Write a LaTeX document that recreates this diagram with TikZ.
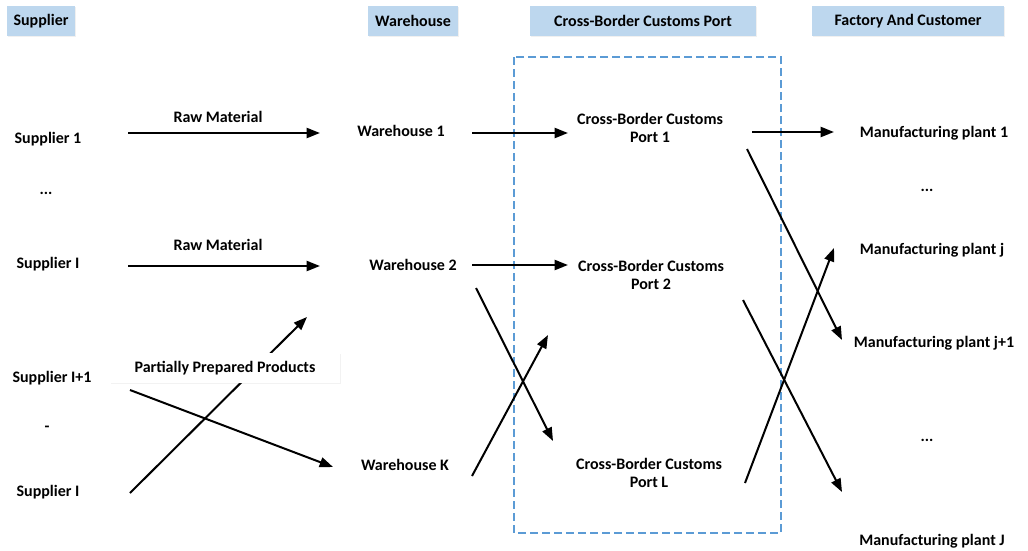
\documentclass[tikz,border=0pt]{standalone}
\usepackage{fontspec}
\setmainfont{Carlito}
\usetikzlibrary{arrows.meta,shadows}
\definecolor{hdrblue}{RGB}{189,215,238}
\definecolor{portblue}{RGB}{91,155,213}
\begin{document}
\begin{tikzpicture}[x=0.75pt,y=-0.75pt,font=\fontsize{12}{14}\selectfont\bfseries]

        \useasboundingbox (0,0) rectangle (1028,550);

        % column headers
        \begin{scope}[every node/.style={fill=hdrblue,minimum height=23pt,inner xsep=2pt,
            drop shadow={shadow xshift=.8pt,shadow yshift=-.8pt,opacity=.12}}]
          \node[minimum width=51pt]  (hsup)  at (41,21)  {Supplier};
          \node[minimum width=67.5pt] (hware) at (413,21) {Warehouse};
          \node[minimum width=170pt] (hport) at (643,21) {Cross-Border Customs Port};
          \node[minimum width=144pt] (hfac)  at (908,21) {Factory And Customer};
        \end{scope}

        % customs area
        \draw[portblue,line width=.8pt,dash pattern=on 6pt off 3pt] (514,57) rectangle (781,533);

        % suppliers
        \begin{scope}[every node/.style={align=center}]
          \node (s1)   at (48,139)  {Supplier 1};
          \node (sdot) at (46,193)  {...};
          \node (si)   at (48,264)  {Supplier I};
          \node (sip)  at (52,378)  {Supplier I+1};
          \node (sdash) at (47,429) {-};
          \node (sib)  at (48,492)  {Supplier I};

          \node (w1) at (401,131) {Warehouse 1};
          \node (w2) at (413,265) {Warehouse 2};
          \node (wk) at (405,465) {Warehouse K};

          \node (p1) at (650,128) {Cross-Border Customs\\Port 1};
          \node (p2) at (651,275) {Cross-Border Customs\\Port 2};
          \node (pl) at (649,473) {Cross-Border Customs\\Port L};

          \node (m1)   at (934,133) {Manufacturing plant 1};
          \node (mdot) at (927,190) {...};
          \node (mj)   at (932,250) {Manufacturing plant j};
          \node (mjp)  at (934,343) {Manufacturing plant j+1};
          \node (mdd)  at (927,440) {...};
          \node (mJ)   at (932,541) {Manufacturing plant J};
        \end{scope}

        % arrow end points
        \coordinate (a1) at (128,133);  \coordinate (b1) at (320,133);
        \coordinate (a2) at (128,266);  \coordinate (b2) at (320,266);
        \coordinate (a3) at (130,390);  \coordinate (b3) at (333,467);
        \coordinate (a4) at (130,493);  \coordinate (b4) at (307,317);
        \coordinate (a5) at (472,133);  \coordinate (b5) at (568,133);
        \coordinate (a6) at (472,265);  \coordinate (b6) at (568,265);
        \coordinate (a7) at (476,288);  \coordinate (b7) at (553,441);
        \coordinate (a8) at (472,476);  \coordinate (b8) at (548,335);
        \coordinate (a9) at (752,132);  \coordinate (b9) at (834,132);
        \coordinate (a10) at (747,149); \coordinate (b10) at (842,340);
        \coordinate (a11) at (743,300); \coordinate (b11) at (842,492);
        \coordinate (a12) at (745,483); \coordinate (b12) at (834,248);

        \begin{scope}[every edge/.style={draw,line width=1.5pt,-{Triangle[length=10pt,width=7.5pt]}}]
          \path (a1)  edge (b1);
          \path (a2)  edge (b2);
          \path (a3)  edge (b3);
          \path (a4)  edge (b4);
          \path (a5)  edge (b5);
          \path (a6)  edge (b6);
          \path (a7)  edge (b7);
          \path (a8)  edge (b8);
          \path (a9)  edge (b9);
          \path (a10) edge (b10);
          \path (a11) edge (b11);
          \path (a12) edge (b12);
        \end{scope}

        % flow labels
        \node (raw1) at (218,117) {Raw Material};
        \node (raw2) at (218,245) {Raw Material};
        \node[fill=white,minimum width=172pt,minimum height=22pt,
          drop shadow={shadow xshift=.8pt,shadow yshift=-.8pt,opacity=.1}] (ppp) at (225,368)
          {Partially Prepared Products};

      \end{tikzpicture}
\end{document}
